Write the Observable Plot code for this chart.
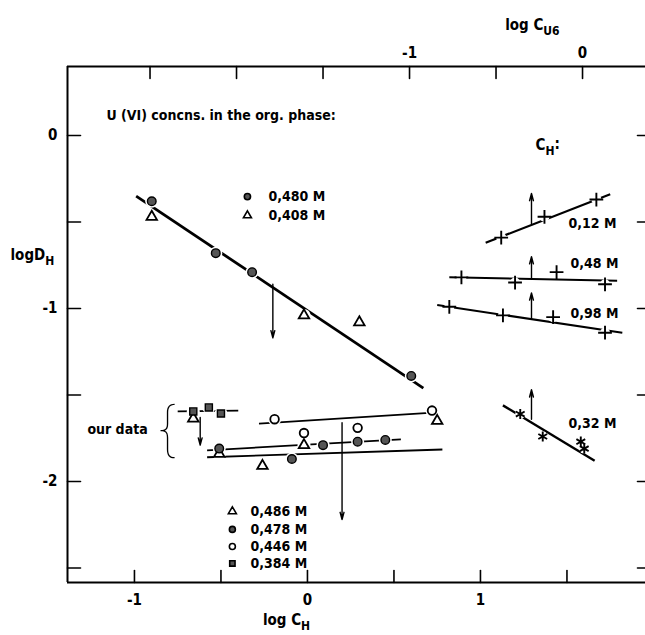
<!DOCTYPE html>
<html><head><meta charset="utf-8">
<script src="https://cdn.jsdelivr.net/npm/d3@7"></script>
<script src="https://cdn.jsdelivr.net/npm/@observablehq/plot@0.6"></script>
<style>
body{margin:0;background:#fff;}
#chart{position:absolute;left:0;top:0;}
</style></head><body><div id="chart"></div>
<script>
const FONT = "'DejaVu Sans Condensed','Liberation Sans Narrow','Roboto Condensed','DejaVu Sans',sans-serif";

// ---- axes ----
const xTicks = [-1, -0.5, 0, 0.5, 1, 1.5];          // log C_H
const xTickLabels = [-1, 0, 1];
const yTicks = [0, -0.5, -1, -1.5, -2, -2.5];       // log D_H
const yTickLabels = [0, -1, -2];
const u6Ticks = [-2.5, -2, -1.5, -1, -0.5, 0];      // log C_U6 (top axis)
const u6TickLabels = [-1, 0];
const U6_SHIFT = 1.59;                              // log C_H position of log C_U6 = 0
const X_MIN = -1.387, X_MAX = 1.954, Y_MIN = -2.584, Y_MAX = 0.399;

// ---- left group: U(VI) concns. in the org. phase ----
const ch480 = [-0.90, -0.53, -0.32, 0.60];
const d480  = [-0.38, -0.68, -0.79, -1.39];
const ch408 = [-0.90, -0.02, 0.30];
const d408  = [-0.47, -1.04, -1.08];
const fitLeftCH = [-0.99, 0.67];
const fitLeftD  = [-0.35, -1.46];

// ---- "our data" ----
const ch486 = [-0.66, -0.51, -0.26, -0.02, 0.75];
const d486  = [-1.636, -1.84, -1.91, -1.79, -1.65];
const ch478 = [-0.51, -0.09, 0.09, 0.29, 0.45];
const d478  = [-1.81, -1.87, -1.79, -1.77, -1.76];
const ch446 = [-0.19, -0.02, 0.29, 0.72];
const d446  = [-1.64, -1.72, -1.69, -1.59];
const ch384 = [-0.66, -0.57, -0.50];
const d384  = [-1.595, -1.572, -1.607];
const fit384CH = [-0.75, -0.40], fit384D = [-1.595, -1.59];
const fit446CH = [-0.28, 0.75],  fit446D = [-1.665, -1.60];
const fit478CH = [-0.58, 0.54],  fit478D = [-1.82, -1.757];
const fit486CH = [-0.58, 0.78],  fit486D = [-1.86, -1.815];

// ---- right group (plotted vs log C_U6), C_H series ----
const u6_012 = [-0.47, -0.22, 0.08];        const d012 = [-0.59, -0.47, -0.37];
const u6_048 = [-0.70, -0.39, -0.15, 0.13]; const d048 = [-0.82, -0.85, -0.79, -0.86];
const u6_098 = [-0.77, -0.46, -0.17, 0.13]; const d098 = [-0.99, -1.04, -1.05, -1.14];
const u6_032 = [-0.36, -0.23, -0.01, 0.01]; const d032 = [-1.61, -1.74, -1.77, -1.81];
const fit012U = [-0.56, 0.16], fit012D = [-0.62, -0.34];
const fit048U = [-0.77, 0.20], fit048D = [-0.82, -0.84];
const fit098U = [-0.84, 0.23], fit098D = [-0.98, -1.14];
const fit032U = [-0.46, 0.07], fit032D = [-1.56, -1.88];

// ---- arrows ----
const arrowCH = [-0.20, 0.20, -0.62];
const arrowCHFrom = [-0.86, -1.66, -1.63];
const arrowCHTo   = [-1.17, -2.22, -1.79];
const arrowU6 = [-0.295, -0.295, -0.295, -0.295];
const arrowU6From = [-0.51, -0.83, -1.06, -1.64];
const arrowU6To   = [-0.335, -0.70, -0.91, -1.47];

// ---- texts ----
const legendTopLabels = ["0,480 M", "0,408 M"];
const legendBottomLabels = ["0,486 M", "0,478 M", "0,446 M", "0,384 M"];
const rightLabels = ["0,12 M", "0,48 M", "0,98 M", "0,32 M"];

// ---------- build rows ----------
const pts = (xs, ys) => xs.map((x, i) => ({x, y: ys[i]}));
const ptsU = (us, ys) => us.map((u, i) => ({x: u + U6_SHIFT, y: ys[i]}));
const fits = [
  {x1: fitLeftCH[0], y1: fitLeftD[0], x2: fitLeftCH[1], y2: fitLeftD[1], w: 2.8},
  {x1: fit384CH[0], y1: fit384D[0], x2: fit384CH[1], y2: fit384D[1], w: 1.8},
  {x1: fit446CH[0], y1: fit446D[0], x2: fit446CH[1], y2: fit446D[1], w: 1.8},
  {x1: fit478CH[0], y1: fit478D[0], x2: fit478CH[1], y2: fit478D[1], w: 1.8},
  {x1: fit486CH[0], y1: fit486D[0], x2: fit486CH[1], y2: fit486D[1], w: 1.8},
  {x1: fit012U[0] + U6_SHIFT, y1: fit012D[0], x2: fit012U[1] + U6_SHIFT, y2: fit012D[1], w: 2.2},
  {x1: fit048U[0] + U6_SHIFT, y1: fit048D[0], x2: fit048U[1] + U6_SHIFT, y2: fit048D[1], w: 2},
  {x1: fit098U[0] + U6_SHIFT, y1: fit098D[0], x2: fit098U[1] + U6_SHIFT, y2: fit098D[1], w: 2},
  {x1: fit032U[0] + U6_SHIFT, y1: fit032D[0], x2: fit032U[1] + U6_SHIFT, y2: fit032D[1], w: 2.4}
];
const P480 = pts(ch480, d480), P408 = pts(ch408, d408);
const P486 = pts(ch486, d486), P478 = pts(ch478, d478), P446 = pts(ch446, d446), P384 = pts(ch384, d384);
const P012 = ptsU(u6_012, d012), P048 = ptsU(u6_048, d048), P098 = ptsU(u6_098, d098), P032 = ptsU(u6_032, d032);
const arrows = [
  ...arrowCH.map((x, i) => ({x, y1: arrowCHFrom[i], y2: arrowCHTo[i]})),
  ...arrowU6.map((u, i) => ({x: u + U6_SHIFT, y1: arrowU6From[i], y2: arrowU6To[i]}))
];

// annotation placement (layout)
const legTop = legendTopLabels.map((t, i) => ({t, sym: ["circle", "triangle"][i], x: -0.347, tx: -0.225, y: [-0.353, -0.462][i]}));
const legBot = legendBottomLabels.map((t, i) => ({t, sym: ["triangle", "circle", "circle", "square"][i],
  fill: ["white", "#555", "white", "#555"][i], x: -0.434, tx: -0.329, y: [-2.173, -2.277, -2.376, -2.474][i]}));
const rightLab = rightLabels.map((t, i) => ({t, x: [-0.081, -0.07, -0.07, -0.081][i] + U6_SHIFT, y: [-0.509, -0.740, -1.029, -1.665][i]}));

const tickShape = {draw(ctx, l) { ctx.moveTo(0, 0); ctx.lineTo(0, -l); }};
const T = {fontFamily: FONT, fill: "black", fontWeight: "bold"};

const svg = Plot.plot({
  width: 645, height: 635,
  marginLeft: 67, marginRight: 0, marginTop: 66, marginBottom: 53,
  style: {fontFamily: FONT, fontSize: "14px", color: "black", background: "white", overflow: "visible"},
  x: {domain: [X_MIN, X_MAX], axis: null},
  y: {domain: [Y_MIN, Y_MAX], axis: null},
  marks: [
    // frame
    Plot.ruleX([X_MIN], {stroke: "black", strokeWidth: 2}),
    Plot.ruleY([Y_MAX, Y_MIN], {stroke: "black", strokeWidth: 2}),
    // inward ticks
    Plot.vector(xTicks, {x: d => d, y: Y_MIN, length: 12, rotate: 0, anchor: "start", shape: tickShape, stroke: "black", strokeWidth: 1.6}),
    Plot.vector(u6Ticks, {x: d => d + U6_SHIFT, y: Y_MAX, length: 12, rotate: 180, anchor: "start", shape: tickShape, stroke: "black", strokeWidth: 1.6}),
    Plot.vector(yTicks, {x: X_MIN, y: d => d, length: 13, rotate: 90, anchor: "start", shape: tickShape, stroke: "black", strokeWidth: 1.6}),
    Plot.vector(yTicks, {x: X_MAX, y: d => d, length: 8, rotate: 270, anchor: "start", shape: tickShape, stroke: "black", strokeWidth: 1.6}),
    // tick labels
    Plot.text(xTickLabels, {x: d => d, y: Y_MIN, dy: 18, text: d => String(d), fontSize: 15, ...T}),
    Plot.text(yTickLabels, {x: X_MIN, y: d => d, dx: -10, textAnchor: "end", text: d => String(d), fontSize: 15, ...T}),
    Plot.text(u6TickLabels, {x: d => d + U6_SHIFT, y: Y_MAX, dy: -13, text: d => String(d), fontSize: 15, ...T}),
    // axis titles
    Plot.text(["log C_H"], {x: -0.121, y: Y_MIN, dy: 38, fontSize: 15, ...T}),
    Plot.text(["log C_U6"], {x: 1.30, y: Y_MAX, dy: -41, fontSize: 15, ...T}),
    Plot.text(["logD_H"], {x: X_MIN, y: -0.694, dx: -57, textAnchor: "start", fontSize: 15, ...T}),
    // fit lines
    Plot.link(fits, {x1: "x1", y1: "y1", x2: "x2", y2: "y2", stroke: "black", strokeWidth: d => d.w}),
    // white halos around markers on lines
    Plot.dot([...P480, ...P408, ...P486, ...P478, ...P446, ...P384], {x: "x", y: "y", r: 6.5, fill: "white", stroke: "none"}),
    Plot.dot([...P012, ...P048, ...P098, ...P032], {x: "x", y: "y", r: 5, fill: "white", stroke: "none"}),
    // markers
    Plot.dot(P408, {x: "x", y: "y", symbol: "triangle", r: 3.9, fill: "white", stroke: "black", strokeWidth: 1.8}),
    Plot.dot(P480, {x: "x", y: "y", symbol: "circle", r: 4.3, fill: "#555", stroke: "black", strokeWidth: 1.4}),
    Plot.dot(P486, {x: "x", y: "y", symbol: "triangle", r: 3.9, fill: "white", stroke: "black", strokeWidth: 1.8}),
    Plot.dot(P478, {x: "x", y: "y", symbol: "circle", r: 4.3, fill: "#555", stroke: "black", strokeWidth: 1.4}),
    Plot.dot(P446, {x: "x", y: "y", symbol: "circle", r: 4.3, fill: "white", stroke: "black", strokeWidth: 1.8}),
    Plot.dot(P384, {x: "x", y: "y", symbol: "square", r: 4, fill: "#555", stroke: "black", strokeWidth: 1.4}),
    Plot.dot([...P012, ...P048, ...P098], {x: "x", y: "y", symbol: "plus", r: 4.5, stroke: "black", strokeWidth: 1.9}),
    Plot.dot(P032, {x: "x", y: "y", symbol: "asterisk", r: 4.8, stroke: "black", strokeWidth: 1.9}),
    // arrows
    Plot.arrow(arrows, {x1: "x", y1: "y1", x2: "x", y2: "y2", stroke: "black", strokeWidth: 1.4, headLength: 8, headAngle: 30}),
    // legends
    Plot.dot(legTop, {x: "x", y: "y", symbol: "sym", r: d => d.sym === "triangle" ? 3.9 : 4.3, fill: d => d.sym === "triangle" ? "white" : "#555", stroke: "black", strokeWidth: 1.6}),
    Plot.text(legTop, {x: "tx", y: "y", text: "t", textAnchor: "start", fontSize: 14, ...T}),
    Plot.dot(legBot, {x: "x", y: "y", symbol: "sym", r: d => d.sym === "triangle" ? 3.9 : 4, fill: "fill", stroke: "black", strokeWidth: 1.6}),
    Plot.text(legBot, {x: "tx", y: "y", text: "t", textAnchor: "start", fontSize: 14, ...T}),
    Plot.text(rightLab, {x: "x", y: "y", text: "t", textAnchor: "start", fontSize: 14, ...T}),
    Plot.text(["U (VI) concns. in the org. phase:"], {x: -1.162, y: 0.116, textAnchor: "start", fontSize: 14, ...T}),
    Plot.text(["C_H:"], {x: 1.318, y: -0.058, textAnchor: "start", fontSize: 15, ...T}),
    Plot.text(["our data"], {x: -1.272, y: -1.699, textAnchor: "start", fontSize: 14, ...T}),
    Plot.text(["{"], {x: -0.81, y: -1.705, fontSize: 60, fontFamily: "Inter, Roboto, sans-serif", fontWeight: 100, fill: "black"})
  ]
});

// subscripts: "base_sub" -> tspans
d3.select(svg).selectAll("text").each(function () {
  const t = this.textContent;
  const m = /^(.*?)_([A-Z0-9]+)(.*)$/.exec(t);
  if (!m) return;
  const el = d3.select(this);
  el.text(null);
  el.append("tspan").text(m[1]);
  el.append("tspan").attr("dy", "0.35em").attr("font-size", "0.8em").text(m[2]);
  if (m[3]) el.append("tspan").attr("dy", "-0.35em").text(m[3]);
});
document.getElementById("chart").appendChild(svg);
</script>
</body></html>
